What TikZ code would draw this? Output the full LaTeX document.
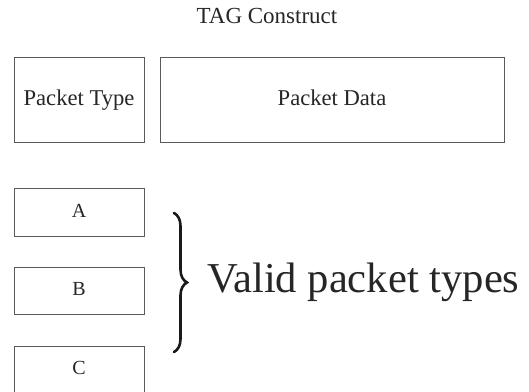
\documentclass[tikz,border=0pt]{standalone}
\usepackage{fontspec}
\setmainfont{Liberation Serif}
\usetikzlibrary{decorations.pathreplacing}
\begin{document}
\begin{tikzpicture}[x=1pt,y=1pt,
  field/.style={draw=black!65, line width=1pt, inner sep=0pt, align=center,
                font=\fontsize{22.6}{26}\selectfont, text=black!85,
                text height=15.5pt, text depth=5pt},
  kind/.style={field, minimum width=130pt, minimum height=47pt,
               font=\fontsize{20}{23}\selectfont,
               text height=14.5pt, text depth=4pt}]
  \useasboundingbox (0,0) rectangle (529,391);
  \clip (0,0) rectangle (529,391);

  % heading
  \node[anchor=base, font=\fontsize{23}{27}\selectfont, text=black!85] (title) at (267,367) {TAG Construct};

  % the two fields of a TAG packet
  \node[field, minimum width=130pt, minimum height=85pt] (ptype) at (79,290.5) {Packet Type};
  \node[field, minimum width=344pt, minimum height=85pt] (pdata) at (332,290.5) {Packet Data};

  % allowed values of the type field
  \node[kind] (ta) at (79,178.5) {A};
  \node[kind] (tb) at (79,100.5) {B};
  \node[kind] (tc) at (79,21.5) {C};

  % brace grouping the types
  \coordinate (bt) at (174,178);
  \coordinate (bb) at (174,39);
  \draw[line width=2.6pt, black!90, line cap=round,
        decorate, decoration={brace, amplitude=13pt}] (bt) -- (bb);
  \node[anchor=base west, font=\fontsize{42.6}{46}\selectfont, text=black!85, inner sep=0pt] (valid) at (207,99) {Valid packet types};
\end{tikzpicture}
\end{document}
